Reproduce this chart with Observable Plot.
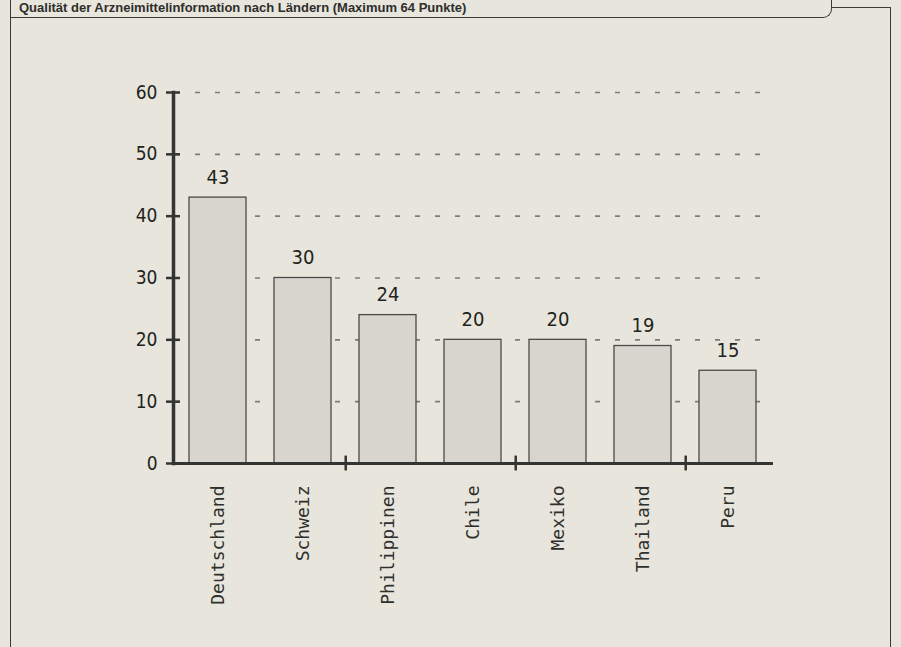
<!DOCTYPE html>
<html>
<head>
<meta charset="utf-8">
<script src="https://cdn.jsdelivr.net/npm/d3@7"></script>
<script src="https://cdn.jsdelivr.net/npm/@observablehq/plot@0.6"></script>
<style>
  html, body { margin: 0; padding: 0; background: #e8e5dc; }
  #wrap { position: relative; width: 901px; height: 647px; overflow: hidden; background: #e8e5dc; }
  #frame { position: absolute; left: 10px; top: 7px; width: 881px; height: 660px;
           border: 1.5px solid #3a3a38; box-sizing: border-box; }
  #title { position: absolute; left: 10px; top: 0px; width: 822px; height: 18px;
           border-right: 1.5px solid #3a3a38; border-bottom: 1.5px solid #3a3a38; border-left: 1.5px solid #3a3a38;
           border-bottom-right-radius: 9px; box-sizing: border-box; background: #e8e5dc;
           font-family: "Liberation Sans", Arial, sans-serif; font-weight: bold; font-size: 13px;
           line-height: 16px; color: #2e2e2c; padding-left: 8px; white-space: nowrap; overflow: hidden; }
  #chart { position: absolute; left: 0; top: 0; }
</style>
</head>
<body>
<div id="wrap">
  <div id="frame"></div>
  <div id="title">Qualität der Arzneimittelinformation nach Ländern (Maximum 64 Punkte)</div>
  <div id="chart"></div>
</div>
<script>
const countries = ["Deutschland", "Schweiz", "Philippinen", "Chile", "Mexiko", "Thailand", "Peru"];
const scores = [43, 30, 24, 20, 20, 19, 15];
const yTicks = [0, 10, 20, 30, 40, 50, 60];
const gridTicks = [10, 20, 30, 40, 50, 60];
const xTickAfter = ["Schweiz", "Chile", "Thailand"];

const data = countries.map((c, i) => ({country: c, score: scores[i]}));

const W = 901, H = 647;
const mL = 173, mR = 130, mT = 92, mB = 184;
const step = (W - mL - mR) / countries.length;

const axisColor = "#333532";
const numFont = "'DejaVu Sans Condensed', 'DejaVu Sans', sans-serif";

const chart = Plot.plot({
  width: W,
  height: H,
  marginLeft: mL,
  marginRight: mR,
  marginTop: mT,
  marginBottom: mB,
  style: {background: "transparent", overflow: "visible"},
  x: {domain: countries, paddingInner: 0.33, paddingOuter: 0.165, label: null},
  y: {domain: [0, 60], label: null},
  marks: [
    Plot.gridY(gridTicks, {stroke: "#7d7d78", strokeOpacity: 1, strokeWidth: 1.6, strokeDasharray: "5,15", strokeDashoffset: -22}),
    Plot.barY(data, {x: "country", y: "score", fill: "#d7d5ce", stroke: "#4a4b48", strokeWidth: 1.3}),
    Plot.text(data, {x: "country", y: "score", text: d => String(d.score), dy: -14, lineAnchor: "bottom",
      fontFamily: numFont, fontStretch: "condensed", fontSize: 20, fill: "#222320"}),
    Plot.frame({anchor: "left", stroke: axisColor, strokeWidth: 3.5}),
    Plot.frame({anchor: "bottom", stroke: axisColor, strokeWidth: 3}),
    Plot.axisY({ticks: yTicks, tickSize: 7, tickPadding: 9, strokeWidth: 2.5, stroke: axisColor,
      fontFamily: numFont, fontSize: 19, fill: "#222320", label: null}),
    Plot.axisY({ticks: yTicks, tickSize: -7, tickFormat: () => "", strokeWidth: 2.5, stroke: axisColor, label: null}),
    Plot.ruleX(xTickAfter, {x: d => d, y1: -1.2, y2: 1.2, dx: step / 2, stroke: axisColor, strokeWidth: 2.5}),
    Plot.axisX({tickSize: 0, tickPadding: 22, tickRotate: -90, fontFamily: "'DejaVu Sans Mono', monospace",
      fontSize: 18, fill: "#2f302d", label: null, style: {letterSpacing: "0.7px"}})
  ]
});
document.getElementById("chart").appendChild(chart);
</script>
</body>
</html>
